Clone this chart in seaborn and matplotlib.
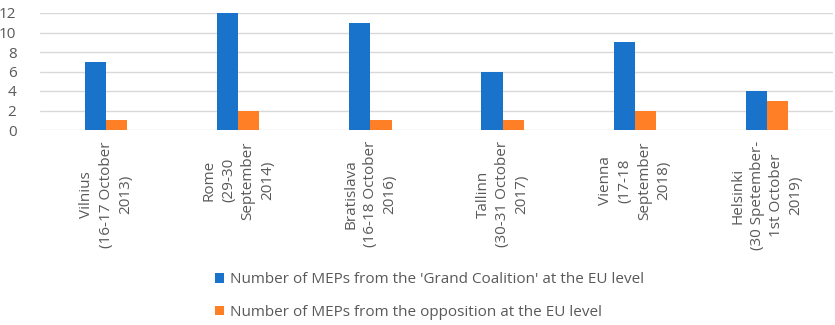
import matplotlib
matplotlib.use("Agg")
import matplotlib.pyplot as plt
from matplotlib.patches import Patch
import pandas as pd
import seaborn as sns

# Summit venues and the MEP counts recorded at each
summits = [
    "Vilnius\n(16-17 October\n2013)",
    "Rome\n(29-30\nSeptember\n2014)",
    "Bratislava\n(16-18 October\n2016)",
    "Tallinn\n(30-31 October\n2017)",
    "Vienna\n(17-18\nSeptember\n2018)",
    "Helsinki\n(30 Spetember-\n1st October\n2019)",
]
grand_coalition = [7, 12, 11, 6, 9, 4]
opposition = [1, 2, 1, 1, 2, 3]
series_names = [
    "Number of MEPs from the 'Grand Coalition' at the EU level",
    "Number of MEPs from the opposition at the EU level",
]
y_ticks = [0, 2, 4, 6, 8, 10, 12]

colors = ["#1A73CB", "#FF7F27"]
text_color = "#595959"

df = pd.DataFrame({
    "summit": summits * 2,
    "series": [series_names[0]] * len(summits) + [series_names[1]] * len(summits),
    "meps": grand_coalition + opposition,
})

sns.set_theme(style="white")
plt.rcParams["font.family"] = ["Open Sans", "DejaVu Sans"]

fig = plt.figure(figsize=(8.35, 3.25), dpi=100)
ax = fig.add_axes([40 / 835, 1 - 130 / 325, 793 / 835, 117 / 325])

sns.barplot(
    data=df, x="summit", y="meps", hue="series", order=summits,
    hue_order=series_names, palette=colors, width=0.32, gap=0,
    linewidth=0, saturation=1, legend=False, ax=ax, errorbar=None,
)

ax.set_ylim(0, 12)
ax.set_yticks(y_ticks)
ax.set_xlim(-0.5, len(summits) - 0.5)
ax.yaxis.grid(True, color="#D9D9D9", linewidth=1)
ax.set_axisbelow(True)
for s in ax.spines.values():
    s.set_visible(False)
ax.set_xlabel("")
ax.set_ylabel("")
ax.tick_params(axis="y", length=0, pad=17, labelsize=11, labelcolor=text_color)
ax.tick_params(axis="x", length=0, pad=8)
ax.set_xticks(range(len(summits)))
ax.set_xticklabels(summits, rotation=90, ha="center", va="top",
                   multialignment="center", fontsize=11, color=text_color,
                   linespacing=1.4)

handles = [Patch(facecolor=c, edgecolor="none") for c in colors]
fig.legend(
    handles, series_names, loc="center left",
    bbox_to_anchor=(215 / 835, 1 - 296 / 325), frameon=False,
    fontsize=11, labelcolor=text_color, handlelength=0.6, handleheight=0.6,
    handletextpad=0.35, labelspacing=1.16, borderpad=0, borderaxespad=0,
)

fig.savefig("out.png", dpi=100)
